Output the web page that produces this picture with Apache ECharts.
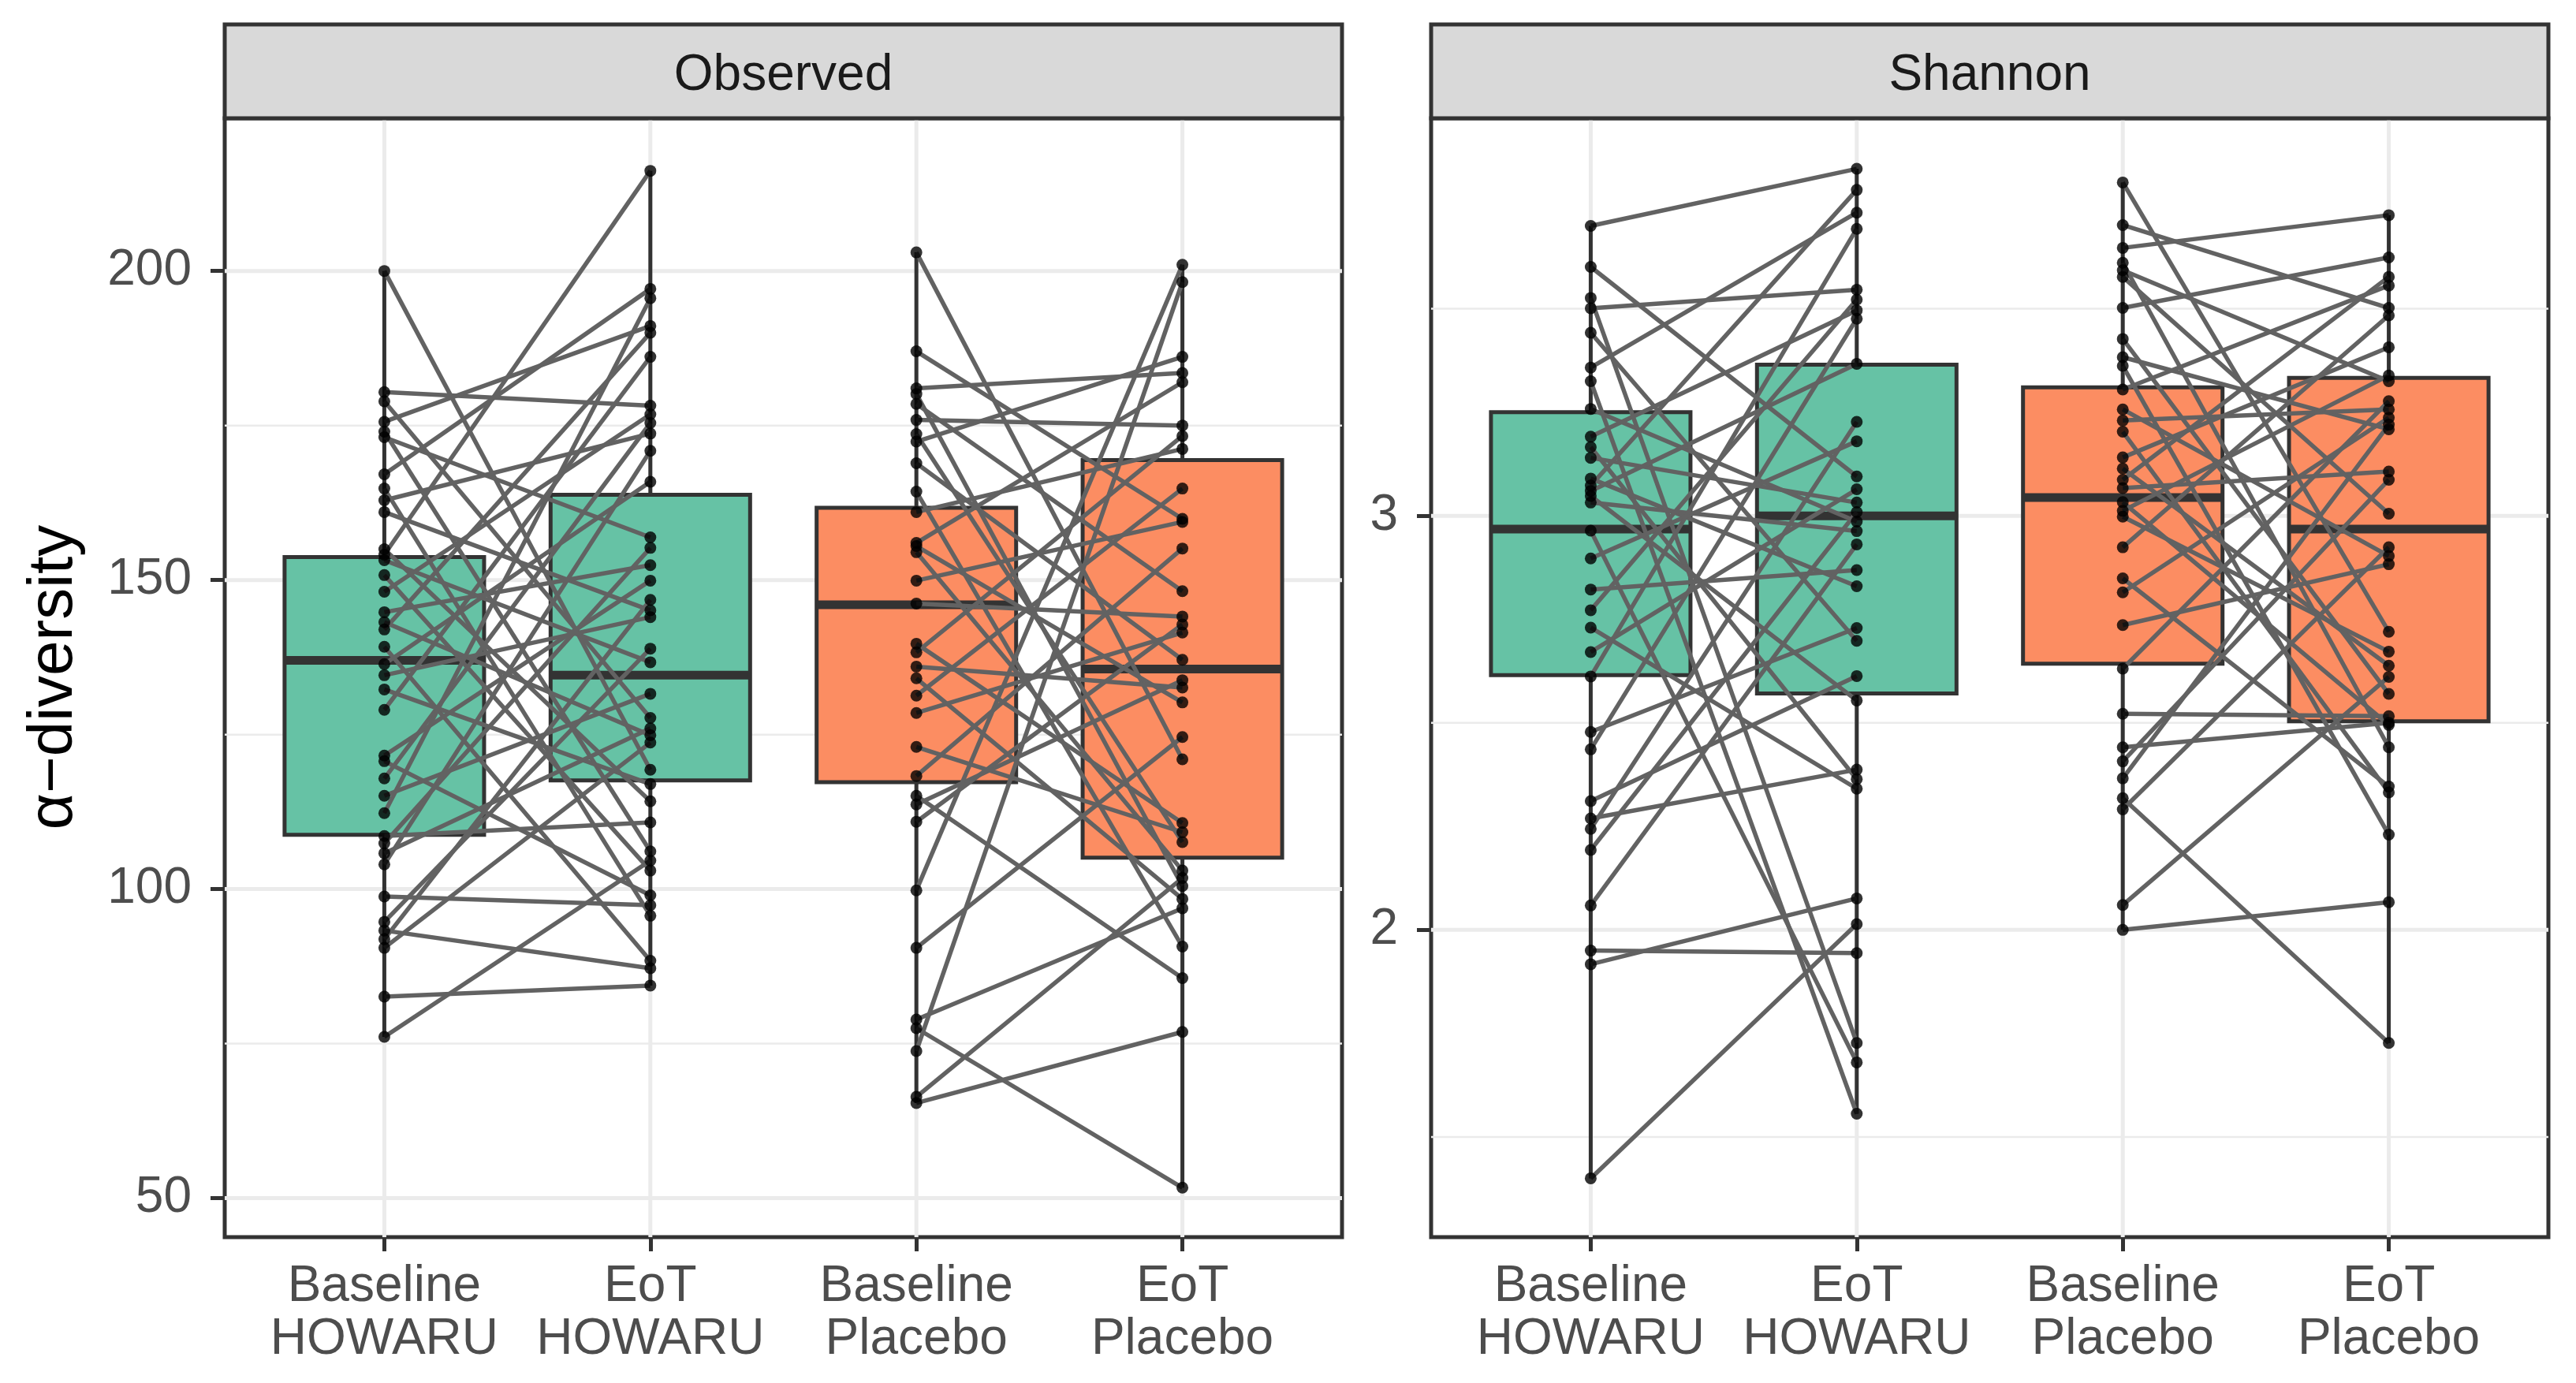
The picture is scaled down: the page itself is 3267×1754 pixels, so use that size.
<!DOCTYPE html>
<html><head><meta charset="utf-8">
<script src="https://cdn.jsdelivr.net/npm/echarts@6/dist/echarts.min.js"></script>
<style>html,body{margin:0;padding:0;background:#fff}#c{width:3267px;height:1754px}</style>
</head><body><div id="c"></div>
<script>
// ---------------- DATA ----------------
const categories = ['Baseline\nHOWARU', 'EoT\nHOWARU', 'Baseline\nPlacebo', 'EoT\nPlacebo'];
const panelTitles = ['Observed', 'Shannon'];
const yAxisTitle = 'α−diversity';

// Observed richness, paired per subject (same index = same subject)
const obsHowaruBaseline = [200.0,180.4,178.9,175.6,174.0,173.1,167.1,164.8,162.9,161.0,155.0,154.1,153.2,150.8,148.1,144.8,143.2,142.0,139.2,136.4,134.6,132.3,129.0,121.6,120.7,117.9,115.1,112.3,108.6,107.4,105.8,104.0,98.8,94.7,93.3,91.9,90.5,82.6,76.1];
const obsHowaruEoT      = [119.3,178.2,127.7,191.1,106.1,156.9,197.1,95.7,173.7,145.1,114.2,216.2,136.7,103.0,176.8,152.4,124.9,190.0,88.4,165.9,144.0,117.0,186.1,149.9,99.0,175.4,131.6,195.6,110.8,155.2,126.0,170.9,97.4,138.9,87.2,146.8,123.7,84.4,104.6];
const obsPlaceboBaseline = [203.0,187.0,181.0,180.1,178.5,175.9,173.6,172.4,168.9,164.3,161.0,155.5,156.0,154.5,149.9,146.2,139.7,138.3,136.0,134.1,131.3,128.5,123.0,118.3,115.1,113.7,110.9,99.8,90.5,78.9,77.5,73.8,66.4,65.4];
const obsPlaceboEoT      = [121.0,159.9,183.5,100.5,148.2,175.0,107.6,186.1,137.1,90.7,171.2,130.2,182.0,103.0,159.4,144.1,110.7,173.3,132.6,98.4,164.8,141.5,109.2,155.1,85.6,133.8,142.8,201.0,124.6,96.9,51.7,198.2,101.8,76.9];

// Shannon index, paired per subject
const shanHowaruBaseline = [3.70,3.601,3.526,3.501,3.442,3.358,3.325,3.258,3.191,3.166,3.140,3.06,3.090,3.073,3.048,3.032,2.964,2.897,2.822,2.772,2.730,2.671,2.612,2.478,2.436,2.311,2.269,2.244,2.193,2.059,1.950,1.917,1.40];
const shanHowaruEoT      = [3.838,3.095,1.727,3.546,2.698,3.732,1.556,2.986,3.496,2.364,3.032,3.367,2.830,3.787,2.554,2.963,1.680,3.180,2.869,3.522,2.341,3.064,3.693,2.729,3.476,2.613,2.387,3.227,3.009,2.931,1.944,2.076,2.014];
const shanPlaceboBaseline = [3.805,3.702,3.647,3.611,3.593,3.577,3.502,3.427,3.383,3.362,3.305,3.257,3.230,3.203,3.141,3.114,3.087,3.067,3.033,3.012,2.998,2.924,2.849,2.815,2.736,2.631,2.522,2.441,2.407,2.366,2.318,2.291,2.060,2.00];
const shanPlaceboEoT      = [2.720,3.502,3.726,2.441,3.325,3.005,3.624,2.570,3.209,2.230,3.556,2.903,3.257,2.332,3.407,2.638,3.577,3.107,2.495,3.339,2.672,3.484,2.346,3.237,2.883,3.277,2.516,2.50,3.087,3.22,1.727,2.924,2.611,2.067];

// Box statistics: [min, Q1, median, Q3, max] per category
const obsBoxStats = [
  [76.1, 108.8, 137.0, 153.7, 200.0],
  [84.4, 117.6, 134.6, 163.8, 216.2],
  [65.4, 117.3, 146.0, 161.7, 203.0],
  [51.7, 105.1, 135.6, 169.4, 201.0]
];
const shanBoxStats = [
  [1.40, 2.615, 2.968, 3.250, 3.70],
  [1.556, 2.571, 3.000, 3.365, 3.838],
  [2.00, 2.643, 3.044, 3.310, 3.805],
  [1.727, 2.504, 2.968, 3.333, 3.726]
];

const obsTicks = [50, 100, 150, 200];
const shanTicks = [2, 3];
const obsRange = [43.7, 224.7];
const shanRange = [1.258, 3.96];
const xPositions = [1, 2, 3, 4];
const xRange = [0.4, 4.6];

// ---------------- STYLE ----------------
const FONT = '"Liberation Sans", Arial, Helvetica, sans-serif';
const boxColors = ['#66C2A5', '#66C2A5', '#FC8D62', '#FC8D62'];
const DARK = '#333333';
const GRID = '#EBEBEB';
const PANEL_TOP = 150, PANEL_H = 1419, PANEL_W = 1417;
const panelLefts = [285, 1815];
const STRIP_TOP = 31;
const BOX_HALF = 0.375;

const chart = echarts.init(document.getElementById('c'), null, {renderer: 'canvas'});

const panelData = [
  {ticks: obsTicks, range: obsRange, box: obsBoxStats,
   pairs: [[obsHowaruBaseline, obsHowaruEoT, 1], [obsPlaceboBaseline, obsPlaceboEoT, 3]]},
  {ticks: shanTicks, range: shanRange, box: shanBoxStats,
   pairs: [[shanHowaruBaseline, shanHowaruEoT, 1], [shanPlaceboBaseline, shanPlaceboEoT, 3]]}
];

function minorTicks(ticks, range) {
  const step = ticks.length > 1 ? ticks[1] - ticks[0] : 1;
  const out = [];
  for (let v = ticks[0] - step / 2; v <= range[1]; v += step) {
    if (v >= range[0]) out.push(v);
  }
  return out;
}

const series = [];
panelData.forEach((p, i) => {
  const yr = p.range;
  const hLine = (w) => (params, api) => {
    const v = api.value(1);
    const a = api.coord([xRange[0], v]), b = api.coord([xRange[1], v]);
    return {type: 'line', shape: {x1: a[0], y1: a[1], x2: b[0], y2: b[1]}, style: {stroke: GRID, lineWidth: w}};
  };
  const vLine = (w) => (params, api) => {
    const v = api.value(0);
    const a = api.coord([v, yr[0]]), b = api.coord([v, yr[1]]);
    return {type: 'line', shape: {x1: a[0], y1: a[1], x2: b[0], y2: b[1]}, style: {stroke: GRID, lineWidth: w}};
  };
  series.push({type: 'custom', xAxisIndex: i, yAxisIndex: i, z: 1, silent: true,
    data: minorTicks(p.ticks, yr).map(v => [xRange[0], v]), renderItem: hLine(2.5)});
  series.push({type: 'custom', xAxisIndex: i, yAxisIndex: i, z: 1, silent: true,
    data: p.ticks.map(v => [xRange[0], v]), renderItem: hLine(5)});
  series.push({type: 'custom', xAxisIndex: i, yAxisIndex: i, z: 1, silent: true,
    data: xPositions.map(x => [x, yr[0]]), renderItem: vLine(5)});

  // boxes
  series.push({type: 'custom', xAxisIndex: i, yAxisIndex: i, z: 2, silent: true,
    encode: {x: 0, y: [1, 2, 3, 4, 5]},
    data: p.box.map((s, k) => [xPositions[k]].concat(s)),
    renderItem: (params, api) => {
      const x = api.value(0);
      const mn = api.value(1), q1 = api.value(2), md = api.value(3), q3 = api.value(4), mx = api.value(5);
      const tl = api.coord([x - BOX_HALF, q3]);
      const br = api.coord([x + BOX_HALF, q1]);
      const pMin = api.coord([x, mn]), pMax = api.coord([x, mx]);
      const pQ1 = api.coord([x, q1]), pQ3 = api.coord([x, q3]);
      const mL = api.coord([x - BOX_HALF, md]), mR = api.coord([x + BOX_HALF, md]);
      return {type: 'group', children: [
        {type: 'line', shape: {x1: pMax[0], y1: pMax[1], x2: pQ3[0], y2: pQ3[1]}, style: {stroke: DARK, lineWidth: 5}},
        {type: 'line', shape: {x1: pQ1[0], y1: pQ1[1], x2: pMin[0], y2: pMin[1]}, style: {stroke: DARK, lineWidth: 5}},
        {type: 'rect', shape: {x: tl[0], y: tl[1], width: br[0] - tl[0], height: br[1] - tl[1]},
          style: {fill: boxColors[params.dataIndex], stroke: DARK, lineWidth: 5}},
        {type: 'line', shape: {x1: mL[0], y1: mL[1], x2: mR[0], y2: mR[1]}, style: {stroke: DARK, lineWidth: 11}}
      ]};
    }});

  // paired lines
  const segs = [];
  const pts = [];
  p.pairs.forEach(([base, eot, x0]) => {
    base.forEach((b, k) => {
      segs.push([x0, b, x0 + 1, eot[k]]);
      pts.push([x0, b]);
      pts.push([x0 + 1, eot[k]]);
    });
  });
  series.push({type: 'custom', xAxisIndex: i, yAxisIndex: i, z: 3, silent: true,
    encode: {x: [0, 2], y: [1, 3]},
    data: segs,
    renderItem: (params, api) => {
      const a = api.coord([api.value(0), api.value(1)]);
      const b = api.coord([api.value(2), api.value(3)]);
      return {type: 'line', shape: {x1: a[0], y1: a[1], x2: b[0], y2: b[1]},
        style: {stroke: '#626262', lineWidth: 5.5}};
    }});
  // points
  series.push({type: 'scatter', xAxisIndex: i, yAxisIndex: i, z: 4, silent: true,
    symbol: 'circle', symbolSize: 15, itemStyle: {color: '#000'}, data: pts});
});

const graphic = [];
panelLefts.forEach((left, i) => {
  graphic.push({type: 'rect', z: 10, shape: {x: left, y: STRIP_TOP, width: PANEL_W, height: PANEL_TOP - STRIP_TOP},
    style: {fill: '#D9D9D9', stroke: DARK, lineWidth: 5}});
  graphic.push({type: 'text', z: 11, x: left + PANEL_W / 2, y: (STRIP_TOP + PANEL_TOP) / 2 + 6,
    style: {text: panelTitles[i], font: '64px ' + FONT, fill: '#1A1A1A', textAlign: 'center', textVerticalAlign: 'middle'}});
});
graphic.push({type: 'text', z: 11, x: 69, y: 859, rotation: Math.PI / 2,
  style: {text: yAxisTitle, font: '80px ' + FONT, fill: '#000', textAlign: 'center', textVerticalAlign: 'middle'}});

const option = {
  animation: false,
  backgroundColor: '#fff',
  grid: panelLefts.map(left => ({left: left, top: PANEL_TOP, width: PANEL_W, height: PANEL_H,
    show: true, borderColor: DARK, borderWidth: 5, backgroundColor: '#fff', containLabel: false, outerBoundsMode: 'none'})),
  xAxis: panelLefts.map((l, i) => ({
    gridIndex: i, type: 'value', min: xRange[0], max: xRange[1],
    axisLine: {show: false}, splitLine: {show: false},
    axisTick: {show: true, customValues: xPositions, length: 18, lineStyle: {color: DARK, width: 5}},
    axisLabel: {customValues: xPositions, formatter: v => categories[Math.round(v) - 1],
      fontSize: 64, color: '#4D4D4D', fontFamily: FONT, lineHeight: 67, margin: 30}
  })),
  yAxis: panelData.map((p, i) => ({
    gridIndex: i, type: 'value', min: p.range[0], max: p.range[1],
    axisLine: {show: false}, splitLine: {show: false},
    axisTick: {show: true, customValues: p.ticks, length: 18, lineStyle: {color: DARK, width: 5}},
    axisLabel: {customValues: p.ticks, fontSize: 64, color: '#4D4D4D', fontFamily: FONT, margin: 42}
  })),
  graphic: graphic,
  series: series
};
chart.setOption(option);
</script>
</body></html>
